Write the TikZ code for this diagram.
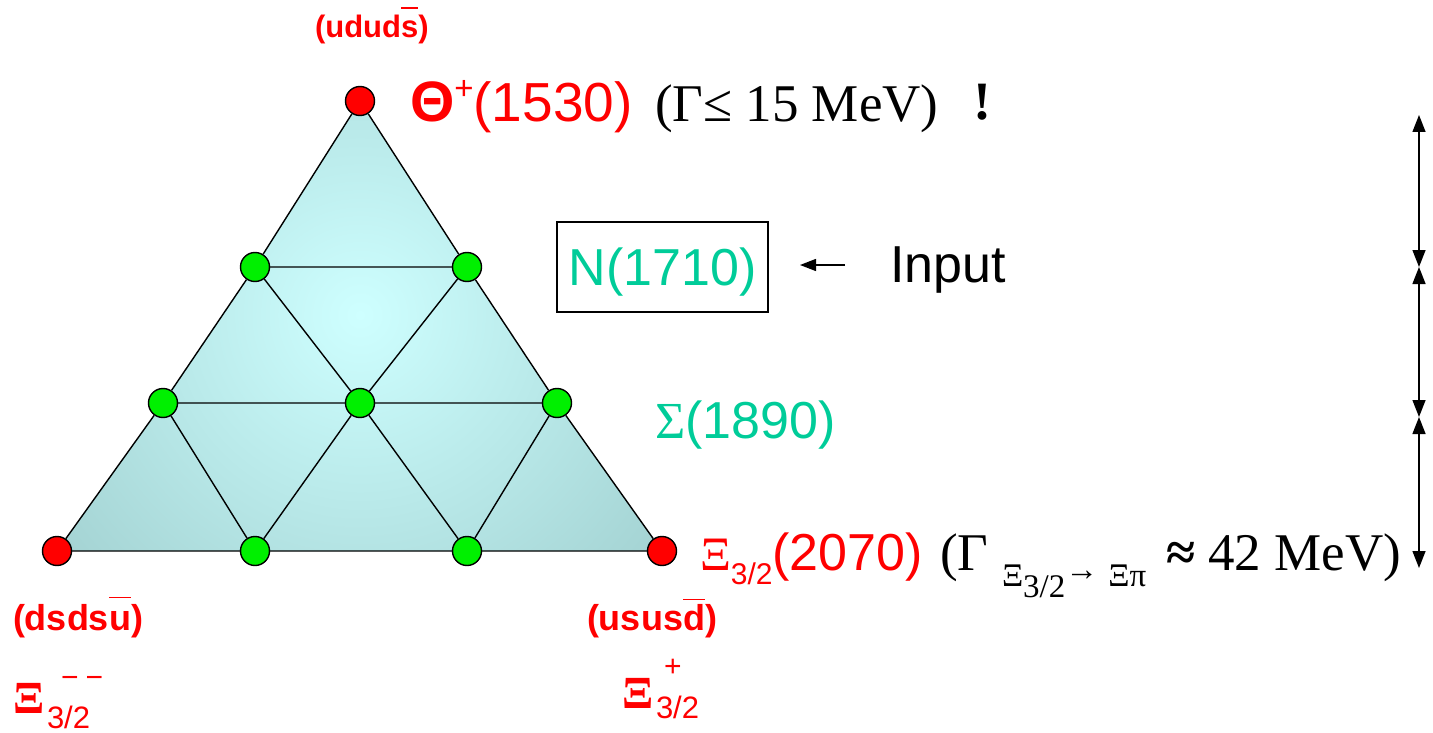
\documentclass[tikz,border=0pt]{standalone}
\usepackage{fontspec}
\setmainfont{Liberation Serif}
\newfontfamily\arial{Liberation Sans}
\usetikzlibrary{arrows.meta}
\definecolor{myred}{RGB}{255,0,0}
\definecolor{myteal}{RGB}{0,204,153}
\definecolor{mygreen}{RGB}{0,240,0}
\definecolor{triout}{RGB}{164,211,211}
\definecolor{triin}{RGB}{206,255,255}
\newcommand\fs[1]{\fontsize{#1}{#1}\selectfont}
\newcommand\mybar[2][0.9em]{\sbox0{#2}\rlap{\raisebox{#1}{\rule{\wd0}{0.045em}}}#2}
\begin{document}
\begin{tikzpicture}[x=1pt,y=-1pt,
  lbl/.style={inner sep=0pt, outer sep=0pt, anchor=base west},
  dot/.style={circle, draw=black, line width=1.4pt, minimum size=29pt, inner sep=0pt},
  rdot/.style={dot, fill=myred},
  gdot/.style={dot, fill=mygreen},
  grid/.style={line width=1.4pt, black},
  tip/.style={line width=1.4pt, {Triangle[length=17pt,width=13pt]}-{Triangle[length=17pt,width=13pt]}}]
\useasboundingbox (0,0) rectangle (1433,733);
% shaded triangle
\begin{scope}
  \clip (360,101) -- (255,267) -- (163,403) -- (57,551) -- (662,551) -- (557,403) -- (467,267) -- cycle;
  \shade[inner color=triin, outer color=triout] (360,315) circle (380);
\end{scope}
% nodes
\node[rdot] (T) at (360,101) {};
\node[gdot] (L1) at (255,267) {};
\node[gdot] (R1) at (467,267) {};
\node[gdot] (L2) at (163,403) {};
\node[gdot] (C) at (360,403) {};
\node[gdot] (R2) at (557,403) {};
\node[rdot] (BL) at (57,551) {};
\node[gdot] (B1) at (255,551) {};
\node[gdot] (B2) at (467,551) {};
\node[rdot] (BR) at (662,551) {};
% edges
\draw[grid] (T) -- (L1) (T) -- (R1) (L1) -- (R1)
  (L1) -- (L2) (R1) -- (R2) (L1) -- (C) (R1) -- (C)
  (L2) -- (C) (C) -- (R2) (L2) -- (BL) (R2) -- (BR)
  (L2) -- (B1) (R2) -- (B2) (C) -- (B1) (C) -- (B2)
  (BL) -- (B1) (B1) -- (B2) (B2) -- (BR);
% top labels
\node[lbl, text=myred, font=\arial\bfseries\fs{31}] (qT) at (315,38) {(udud\mybar[0.95em]{s})};
\node[lbl, text=myred] (th) at (410,122) {{\arial\bfseries\fs{57}Θ}\raisebox{22pt}{\arial\fs{33}+}{\arial\fs{55}(1530)}};
\node[lbl, font=\fs{53}] (g1) at (655,122) {(Γ≤ 15 MeV)};
\node[lbl, font=\bfseries\fs{54}] (ex) at (973,120) {!};
% N box
\node[draw, line width=1.4pt, minimum width=211pt, minimum height=90pt, inner sep=0pt,
      text height=36pt, text depth=0pt, text=myteal, font=\arial\fs{52}] (N) at (662.5,267) {N(1710)};
\coordinate (ia) at (845,265);
\coordinate (ib) at (800,265);
\draw[line width=1.4pt, -{Triangle[length=16pt,width=12pt]}] (ia) -- (ib);
\node[lbl, font=\arial\fs{52}] (in) at (890,282) {Input};
% Sigma
\node[lbl, text=myteal] (sig) at (655,438) {{\fs{52}Σ}{\arial\fs{52}(1890)}};
% Xi 3/2 (2070)
\node[lbl, text=myred] (xi) at (700,570) {{\fs{48}Ξ}\raisebox{-14pt}{\arial\fs{30}3/2}{\arial\fs{52}(2070)}};
\node[lbl, font=\fs{53}] (gA) at (940,570) {(Γ};
\node[lbl, font=\fs{33}] (gB) at (1002,586) {Ξ\raisebox{-11pt}{3/2}\raisebox{6pt}{→}\hspace{10pt}Ξπ};
\node[lbl, font=\fs{53}] (gC) at (1166,570) {{\bfseries ≈} 42 MeV)};
% right arrows
\coordinate (r0) at (1419,115);
\coordinate (r1) at (1419,267);
\coordinate (r2) at (1419,417);
\coordinate (r3) at (1419,568);
\draw[tip] (r0) -- (r1);
\draw[tip] (r1) -- (r2);
\draw[tip] (r2) -- (r3);
% bottom labels
\node[lbl, text=myred, font=\arial\bfseries\fs{36}] (qL) at (13,630) {(dsds\mybar[0.88em]{u})};
\node[lbl, text=myred, font=\arial\bfseries\fs{36}] (qR) at (587,630) {(usus\mybar[0.83em]{d})};
\node[lbl, text=myred, font=\bfseries\fs{46}] (xL) at (13,713) {Ξ};
\node[lbl, text=myred, font=\arial\fs{31}] (xLs) at (47,728) {3/2};
\node[lbl, text=myred, font=\arial\fs{30}] (xLp) at (61,687) {−\hspace{7pt}−};
\node[lbl, text=myred, font=\bfseries\fs{46}] (xR) at (622,708) {Ξ};
\node[lbl, text=myred, font=\arial\fs{31}] (xRs) at (656,718) {3/2};
\node[lbl, text=myred, font=\arial\fs{30}] (xRp) at (664,676) {+};
\end{tikzpicture}
\end{document}
